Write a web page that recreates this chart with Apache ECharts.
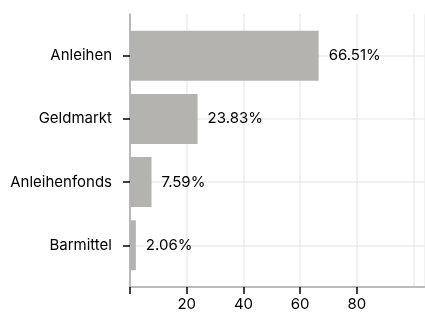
<!DOCTYPE html>
<html>
<head>
<meta charset="utf-8">
<script src="https://cdn.jsdelivr.net/npm/echarts@6/dist/echarts.min.js"></script>
<style>
  html, body { margin: 0; padding: 0; background: #fff; }
  #main { width: 425px; height: 315px; }
</style>
</head>
<body>
<div id="main"></div>
<script>
// data
const categories = ['Anleihen', 'Geldmarkt', 'Anleihenfonds', 'Barmittel'];
const values = [66.51, 23.83, 7.59, 2.06];
const xTickLabels = [20, 40, 60, 80];
const xTicks = [0, 20, 40, 60, 80];
const catIndex = [0, 1, 2, 3];

var chart = echarts.init(document.getElementById('main'));

var gray = '#a6a6a6';
var grid = '#ececec';

// grid 0 = full frame (axis lines, ticks, gridlines), grid 1 = bar bands
var option = {
    animation: false,
    textStyle: { fontFamily: 'Inter' },
    grid: [
        { left: 130, right: 0, top: 14, bottom: 28 },
        { left: 130, right: 0, top: 24.1, bottom: 38.1 }
    ],
    xAxis: [
        {
            gridIndex: 0, type: 'value', min: 0, max: 104, position: 'bottom',
            axisLine: { show: true, onZero: false, lineStyle: { color: gray, width: 1.5 } },
            axisTick: { show: true, length: 7, customValues: xTicks, lineStyle: { color: '#000', width: 1.5 } },
            axisLabel: { customValues: xTickLabels, color: '#000', fontSize: 15, margin: 10 },
            splitLine: { show: false }
        },
        {
            gridIndex: 0, type: 'value', min: 0, max: 104, interval: 20, position: 'top',
            axisLine: { show: false }, axisTick: { show: false }, axisLabel: { show: false },
            splitLine: { show: true, lineStyle: { color: grid, width: 1.5 } }
        },
        {
            gridIndex: 1, type: 'value', min: 0, max: 104, show: false
        }
    ],
    yAxis: [
        {
            gridIndex: 0, type: 'value', inverse: true, min: -0.66, max: 3.66,
            axisLine: { show: true, onZero: false, lineStyle: { color: gray, width: 1.5 } },
            axisTick: { show: false, customValues: catIndex },
            axisLabel: { show: false },
            splitLine: { show: true, lineStyle: { color: grid, width: 1.5 } }
        },
        {
            gridIndex: 1, type: 'category', inverse: true, data: categories,
            axisLine: { show: false },
            axisTick: { show: true, alignWithLabel: true, length: 7, lineStyle: { color: '#000', width: 1.5 } },
            axisLabel: { color: '#000', fontSize: 15, margin: 18 },
            splitLine: { show: false }
        }
    ],
    series: [
        {
            type: 'bar',
            xAxisIndex: 2,
            yAxisIndex: 1,
            barWidth: 50,
            data: values,
            itemStyle: { color: '#b4b3af' },
            label: {
                show: true,
                position: 'right',
                distance: 10,
                color: '#000',
                fontSize: 15,
                formatter: function (p) { return p.value.toFixed(2) + '%'; }
            }
        }
    ]
};

chart.setOption(option);
</script>
</body>
</html>
